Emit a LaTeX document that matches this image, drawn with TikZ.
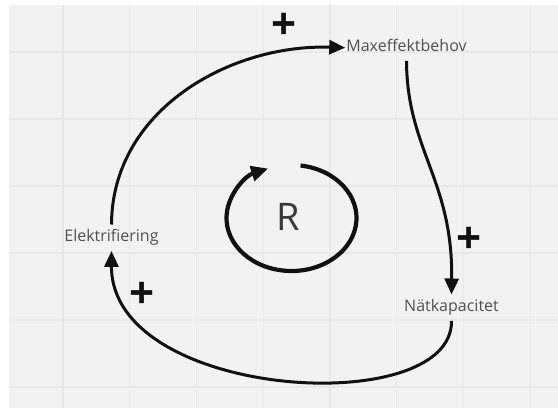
\documentclass[tikz,border=0pt]{standalone}
\usepackage{fontspec}
\setmainfont{Open Sans}
\usetikzlibrary{arrows.meta}
\definecolor{bggray}{HTML}{F2F2F2}
\definecolor{gridgray}{HTML}{E8E8E8}
\definecolor{labelgray}{HTML}{505050}
\definecolor{rgray}{HTML}{3A3A3A}
\definecolor{ink}{HTML}{111111}
\tikzset{
  label/.style={font=\fontsize{16}{18}\selectfont, text=labelgray, anchor=base,
    text height=12pt, text depth=4pt, inner xsep=1pt, inner ysep=5pt},
  sign/.style={font=\fontsize{44}{44}\selectfont\bfseries, text=ink, inner sep=0pt},
  conn/.style={draw=ink, line width=3pt, -{Triangle[length=16pt,width=14pt]}},
  loopline/.style={draw=ink, line width=4.2pt, -{Triangle[length=17pt,width=15pt]}},
}
\begin{document}
\begin{tikzpicture}[x=1pt,y=1pt]
\useasboundingbox (0,0) rectangle (558,408);
\fill[white] (0,0) rectangle (558,408);
\fill[bggray] (9,0) rectangle (558,403);
\foreach \gx in {63,129.8,196.5,263.3,330,396.8,463.5,530.3}
  \draw[gridgray, line width=1.3pt] (\gx,0) -- (\gx,403);
\foreach \gy in {356,289,222,155,88,21}
  \draw[gridgray, line width=1.3pt] (9,\gy) -- (558,\gy);

\node[label] (elek) at (111.5,166.3) {Elektrifiering};
\node[label] (maxeff) at (406.5,356.3) {Maxeffektbehov};
\node[label] (nat) at (451.5,96.3) {Nätkapacitet};
\node[font=\fontsize{38}{40}\selectfont, text=rgray, anchor=base, inner sep=0pt] (r) at (288.5,178) {R};

\node[sign] (p1) at (284.5,382) {+};
\node[sign] (p2) at (469,168) {+};
\node[sign] (p3) at (142,113) {+};

\draw[conn] (elek.north) .. controls (112,298) and (230,364) .. (maxeff.west);
\draw[conn] (maxeff.south) .. controls (407,258) and (453,228) .. (nat.north);
\draw[conn] (nat.south) .. controls (453,-12) and (111,8) .. (elek.south);

\coordinate (rc) at (291.5,190);
\draw[loopline] (rc) ++(82:65 and 53) arc[start angle=82, end angle=-249, x radius=65, y radius=53];
\end{tikzpicture}
\end{document}
